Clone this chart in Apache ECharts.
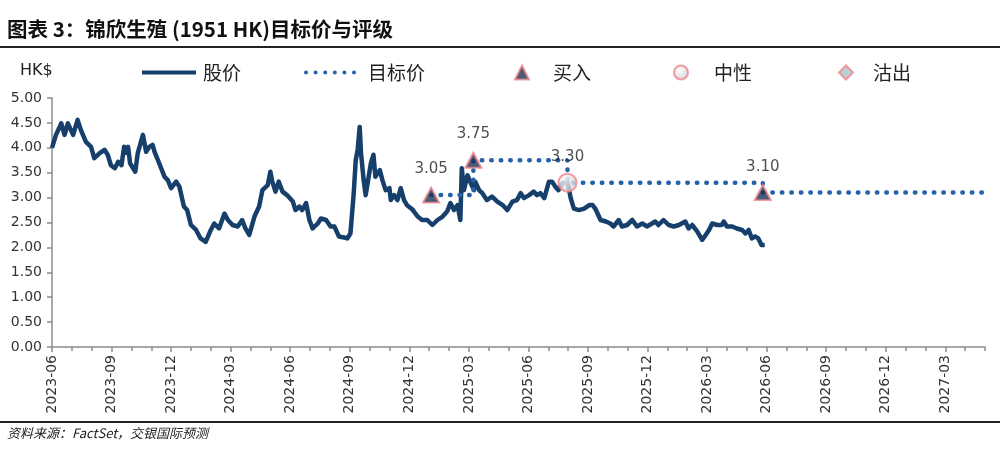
<!DOCTYPE html>
<html>
<head>
<meta charset="utf-8">
<script src="https://cdn.jsdelivr.net/npm/echarts@6/dist/echarts.min.js"></script>
<style>
html,body{margin:0;padding:0;background:#fff;}
#chart{width:1004px;height:457px;}
</style>
</head>
<body>
<div id="chart"></div>
<script>
// ---- Data ----
const priceDates = [
'2023-06-01','2023-06-07','2023-06-15','2023-06-20','2023-06-25','2023-07-03','2023-07-10','2023-07-15','2023-07-23','2023-07-31',
'2023-08-05','2023-08-13','2023-08-21','2023-08-26','2023-08-31','2023-09-06','2023-09-11','2023-09-16','2023-09-20','2023-09-23',
'2023-09-26','2023-09-29','2023-10-07','2023-10-11','2023-10-19','2023-10-24','2023-10-29','2023-11-03','2023-11-06','2023-11-13',
'2023-11-21','2023-11-26','2023-12-01','2023-12-09','2023-12-14','2023-12-21','2023-12-26','2024-01-01','2024-01-09','2024-01-16',
'2024-01-24','2024-02-01','2024-02-06','2024-02-13','2024-02-21','2024-02-26','2024-03-04','2024-03-12','2024-03-19','2024-03-24',
'2024-03-30','2024-04-07','2024-04-14','2024-04-19','2024-04-27','2024-05-01','2024-05-04','2024-05-09','2024-05-14','2024-05-20',
'2024-05-27','2024-06-05','2024-06-09','2024-06-15','2024-06-19','2024-06-25','2024-06-30','2024-07-05','2024-07-13','2024-07-18',
'2024-07-26','2024-08-02','2024-08-08','2024-08-15','2024-08-23','2024-08-28','2024-09-02','2024-09-07','2024-09-10','2024-09-13',
'2024-09-16','2024-09-18','2024-09-22','2024-09-25','2024-09-28','2024-10-03','2024-10-07','2024-10-10','2024-10-13','2024-10-17',
'2024-10-21','2024-10-26','2024-11-01','2024-11-03','2024-11-08','2024-11-13','2024-11-18','2024-11-23','2024-11-28','2024-12-06',
'2024-12-14','2024-12-21','2024-12-29','2025-01-06','2025-01-14','2025-01-22','2025-01-29','2025-02-03','2025-02-08','2025-02-13',
'2025-02-17','2025-02-19','2025-02-22','2025-02-27','2025-03-04','2025-03-09','2025-03-11','2025-03-17','2025-03-22','2025-03-29',
'2025-04-06','2025-04-14','2025-04-22','2025-04-29','2025-05-07','2025-05-14','2025-05-20','2025-05-25','2025-06-02','2025-06-09',
'2025-06-14','2025-06-19','2025-06-25','2025-07-02','2025-07-07','2025-07-12','2025-07-17','2025-07-23','2025-07-31','2025-08-05',
'2025-08-10','2025-08-18','2025-08-26','2025-09-03','2025-09-08','2025-09-12','2025-09-20','2025-09-28','2025-10-05','2025-10-10',
'2025-10-18','2025-10-23','2025-10-31','2025-11-08','2025-11-15','2025-11-23','2025-11-30','2025-12-08','2025-12-13','2025-12-18',
'2025-12-26','2026-01-03','2026-01-11','2026-01-19','2026-01-29','2026-02-03','2026-02-08','2026-02-15','2026-02-22','2026-02-27',
'2026-03-04','2026-03-09','2026-03-17','2026-03-24','2026-03-27','2026-04-01','2026-04-09','2026-04-16','2026-04-24','2026-04-29',
'2026-05-04','2026-05-09','2026-05-14','2026-05-19','2026-05-24','2026-05-29'
];
const prices = [
4.00,4.26,4.49,4.26,4.49,4.26,4.56,4.36,4.12,4.02,
3.79,3.89,3.96,3.86,3.65,3.59,3.72,3.65,4.02,3.90,
4.02,3.69,3.52,3.90,4.26,3.92,4.02,4.06,3.92,3.69,
3.42,3.35,3.19,3.32,3.22,2.82,2.75,2.45,2.35,2.18,
2.11,2.35,2.48,2.38,2.68,2.55,2.45,2.42,2.55,2.38,
2.25,2.62,2.82,3.15,3.25,3.52,3.32,3.12,3.32,3.12,
3.05,2.92,2.75,2.82,2.75,2.89,2.55,2.38,2.48,2.58,
2.55,2.42,2.42,2.22,2.20,2.18,2.28,3.09,3.75,3.96,
4.42,3.89,3.35,3.05,3.29,3.69,3.86,3.42,3.45,3.55,
3.35,3.15,3.19,2.95,3.05,2.95,3.19,2.95,2.84,2.76,
2.62,2.55,2.55,2.45,2.55,2.62,2.72,2.89,2.75,2.85,
2.55,3.59,3.15,3.45,3.29,3.15,3.32,3.15,3.09,2.95,
3.02,2.92,2.85,2.75,2.92,2.95,3.09,2.99,3.05,3.12,
3.05,3.09,2.99,3.32,3.32,3.22,3.15,3.29,3.32,2.99,
2.78,2.75,2.78,2.85,2.85,2.78,2.55,2.52,2.48,2.42,
2.55,2.42,2.45,2.55,2.42,2.48,2.42,2.48,2.52,2.45,
2.55,2.45,2.42,2.45,2.52,2.38,2.45,2.32,2.15,2.25,
2.35,2.48,2.45,2.45,2.52,2.42,2.42,2.38,2.35,2.28,
2.35,2.18,2.22,2.18,2.05,2.05
];
// target price (step line); last entry is the end of the projection
const targetDates = ['2025-01-04','2025-03-08','2025-07-31','2026-05-26','2027-05-01'];
const targetValues = [3.05, 3.75, 3.30, 3.10, 3.10];
// rating events
const buyDates = ['2025-01-04','2025-03-08','2026-05-26'];
const buyValues = [3.05, 3.75, 3.10];
const neutralDates = ['2025-07-31'];
const neutralValues = [3.30];
const sellDates = [];
const sellValues = [];
const yTicks = [0,0.5,1,1.5,2,2.5,3,3.5,4,4.5,5];

// ---- helpers ----
function toM(d){
  const p = d.split('-').map(Number);
  const dim = new Date(p[0], p[1], 0).getDate();
  return (p[0]-2023)*12 + (p[1]-6) + (p[2]-1)/dim;
}
function mLabel(v){
  const t = 2023*12 + 5 + Math.round(v);
  const y = Math.floor(t/12), m = t%12 + 1;
  return y + '-' + (m<10?'0':'') + m;
}
const pair = (ds, vs) => ds.map((d,i)=>[toM(d), vs[i]]);

// dotted legend icon (6 dots)
function dotsPath(){
  let s = 'path://';
  const cs = [2, 11.6, 21.2, 30.8, 40.4, 50];
  cs.forEach(c=>{ s += 'M' + (c-2) + ',2a2,2 0 1,0 4,0a2,2 0 1,0 -4,0Z'; });
  return s;
}

const AX = '#8c8c8c';
const FONT = '"DejaVu Sans", "Noto Sans CJK SC", sans-serif';
const CJK = '"Noto Sans CJK SC", sans-serif';
const NAVY = '#163f6b';
const DOT = '#2462aa';
const PINK = '#f2838b';

const chart = echarts.init(document.getElementById('chart'), null, {renderer:'canvas'});
const legendBase = {top: 63, padding:0, itemHeight: 12, textStyle:{fontSize:19, color:'#222', fontFamily:CJK}};
const ts = pad => Object.assign({}, legendBase.textStyle, {padding:[0,0,0,pad]});
chart.setOption({
  animation:false,
  backgroundColor:'#fff',
  grid:{left:52, right:19, top:98, bottom:110},
  xAxis:[{
    type:'value', min:0, max:47, interval:3,
    axisLine:{show:true, lineStyle:{color:AX, width:1.5}},
    axisTick:{show:true, length:5, lineStyle:{color:AX, width:1.5}},
    splitLine:{show:false},
    axisLabel:{rotate:90, fontSize:14, color:'#333', fontFamily:FONT, margin:8,
      showMaxLabel:false, formatter:mLabel}
  },{
    type:'value', min:0, max:47, interval:1, position:'bottom',
    axisLine:{show:false}, axisLabel:{show:false}, splitLine:{show:false},
    axisTick:{show:true, length:4, lineStyle:{color:AX, width:1.5}}
  }],
  yAxis:{
    type:'value', min:yTicks[0], max:yTicks[yTicks.length-1], interval:0.5,
    axisLine:{show:true, lineStyle:{color:AX, width:1.5}},
    axisTick:{show:true, length:5, lineStyle:{color:AX, width:1.5}},
    splitLine:{show:false},
    axisLabel:{fontSize:14, color:'#333', fontFamily:FONT, margin:10,
      formatter:v=>v.toFixed(2)}
  },
  legend:[
    Object.assign({}, legendBase, {data:[{name:'股价', icon:'rect'}], left:142, itemWidth:54, itemHeight:4,
      textStyle:ts(2)}),
    Object.assign({}, legendBase, {data:[{name:'目标价', icon:dotsPath()}], left:304, itemWidth:52, itemHeight:4,
      textStyle:ts(7)}),
    Object.assign({}, legendBase, {data:['买入'], left:514, itemWidth:14, itemHeight:14, textStyle:ts(19)}),
    Object.assign({}, legendBase, {data:['中性'], left:673, itemWidth:14, itemHeight:14, textStyle:ts(21)}),
    Object.assign({}, legendBase, {data:['沽出'], left:838, itemWidth:14, itemHeight:14, textStyle:ts(15)})
  ],
  graphic:[
    {type:'text', left:7, top:19, style:{text:'图表 3：锦欣生殖 (1951 HK)目标价与评级', font:'bold 20.5px "Noto Sans CJK SC", sans-serif', fill:'#111'}},
    {type:'rect', shape:{x:0, y:46, width:1000, height:2}, style:{fill:'#222'}},
    {type:'text', left:20, top:63, style:{text:'HK$', font:'16px "DejaVu Sans", sans-serif', fill:'#222'}},
    {type:'rect', shape:{x:0, y:421, width:1000, height:2}, style:{fill:'#222'}},
    {type:'text', left:7, top:427, style:{text:'资料来源：FactSet，交银国际预测', font:'italic 13px "Noto Sans CJK SC", sans-serif', fill:'#222'}}
  ],
  series:[
    {name:'股价', type:'line', data:pair(priceDates, prices), symbol:'none', smooth:false,
      lineStyle:{color:NAVY, width:4.5, join:'round'}, itemStyle:{color:NAVY}, z:2},
    {name:'目标价', type:'line', step:'end', data:pair(targetDates, targetValues), symbol:'none',
      lineStyle:{color:DOT, width:4.5, type:[0.5, 9], cap:'round'}, itemStyle:{color:DOT}, z:3},
    {name:'买入', type:'scatter', data:pair(buyDates, buyValues), symbol:'triangle', symbolSize:[16,15],
      itemStyle:{color:'#1c3254', borderColor:PINK, borderWidth:2}, z:5,
      label:{show:true, position:'top', distance:10, fontSize:15, color:'#222', fontFamily:FONT,
        formatter:p=>p.value[1].toFixed(2)}},
    {name:'中性', type:'scatter', data:pair(neutralDates, neutralValues), symbol:'circle', symbolSize:18,
      itemStyle:{color:new echarts.graphic.RadialGradient(0.4,0.35,0.7,[{offset:0,color:'#ffffff'},{offset:1,color:'#c6c6cd'}]),
        borderColor:PINK, borderWidth:2}, z:5,
      label:{show:true, position:'top', distance:8, fontSize:15, color:'#222', fontFamily:FONT,
        formatter:p=>p.value[1].toFixed(2)}},
    {name:'沽出', type:'scatter', data:pair(sellDates, sellValues), symbol:'diamond', symbolSize:14,
      itemStyle:{color:'#a7c6cb', borderColor:PINK, borderWidth:2}, z:5}
  ]
});
</script>
</body>
</html>
